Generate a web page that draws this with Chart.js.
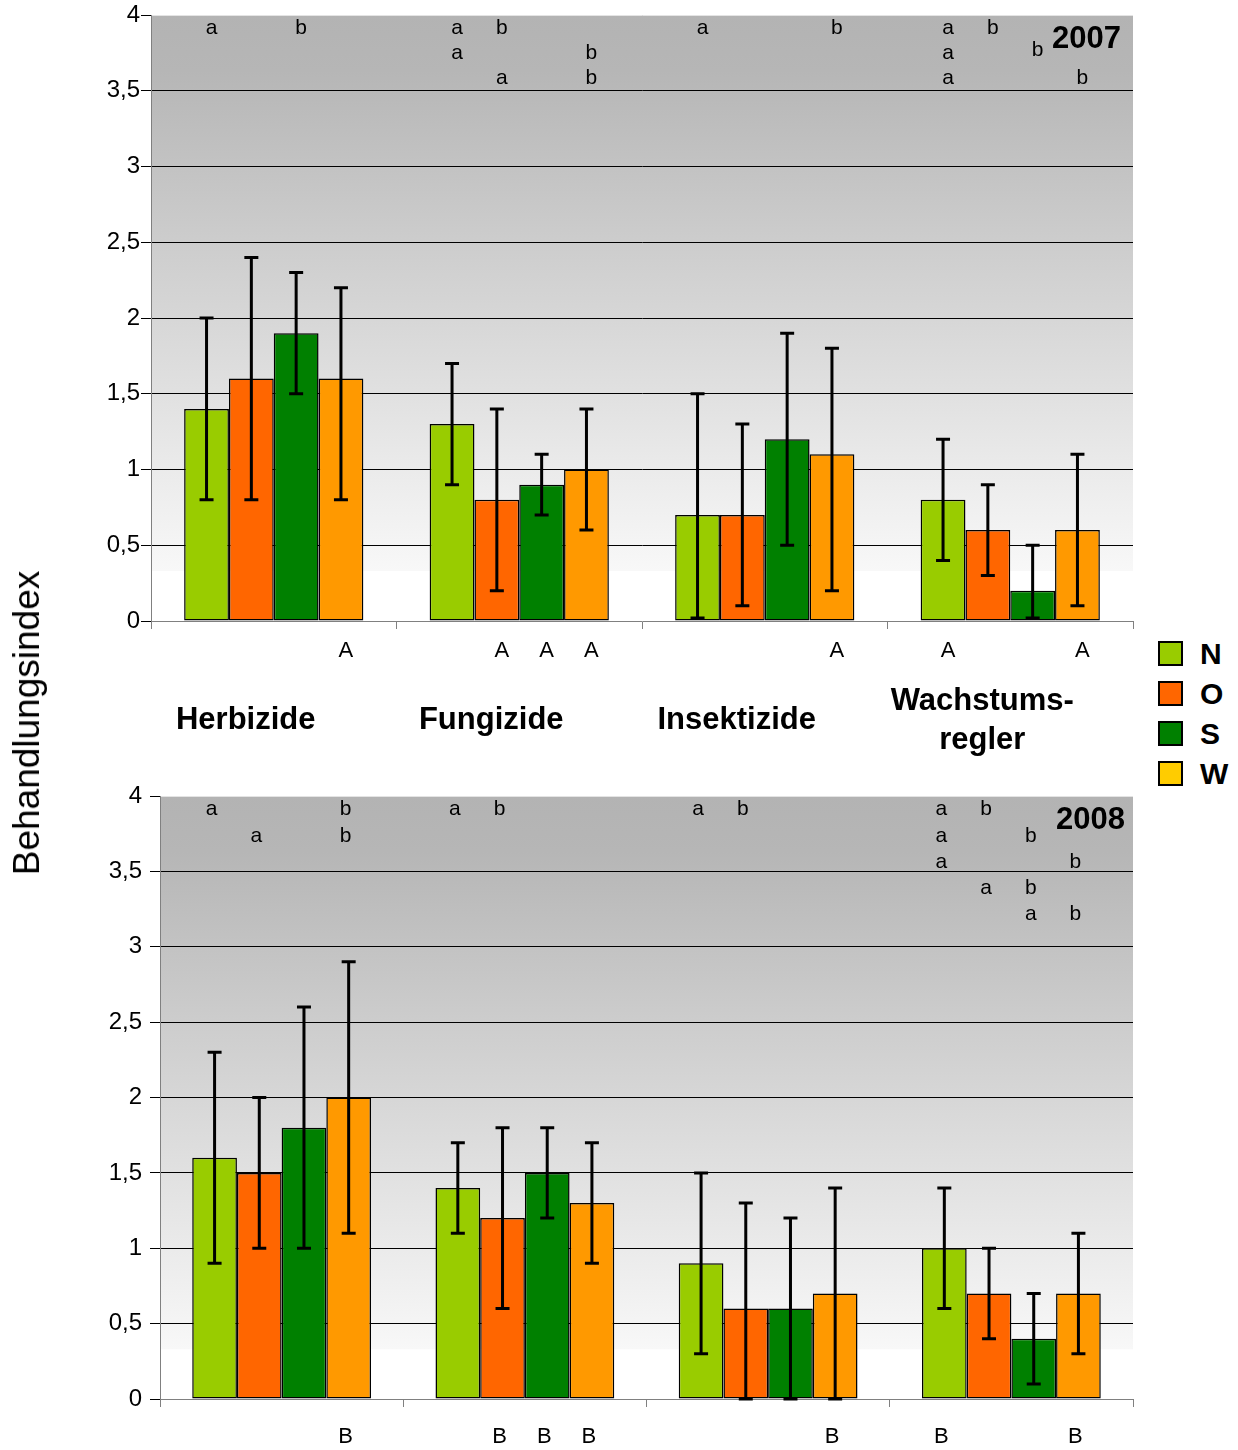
<!DOCTYPE html>
<html>
<head>
<meta charset="utf-8">
<script src="https://cdn.jsdelivr.net/npm/chart.js@4.4.1/dist/chart.umd.min.js"></script>
<style>
  body { margin: 0; background: #fff; width: 1238px; height: 1450px; position: relative; overflow: hidden;
         font-family: 'Liberation Sans', Arial, sans-serif; }
  canvas { position: absolute; left: 0; }
  #c2007 { top: 0; }
  #c2008 { top: 780px; }
  #ytitle { position: absolute; left: 27px; top: 723px; transform: translate(-50%, -50%) rotate(-90deg);
            font-size: 37px; white-space: nowrap; }
  #legend { position: absolute; left: 1158px; top: 641px; }
  .item { display: flex; align-items: center; height: 25px; margin-bottom: 15px; }
  .sw { width: 21px; height: 21px; border: 2px solid #000; }
  .lab { font-weight: bold; font-size: 30px; margin-left: 17px; }
</style>
</head>
<body>
<canvas id="c2007" width="1140" height="780"></canvas>
<canvas id="c2008" width="1140" height="670"></canvas>
<div id="ytitle">Behandlungsindex</div>
<div id="legend"></div>
<script>
const categories = [["Herbizide"], ["Fungizide"], ["Insektizide"], ["Wachstums-", "regler"]];
const seriesNames = ["N", "O", "S", "W"];
const barColors = ["#99cc00", "#ff6600", "#008000", "#ff9900"];
const legendColors = ["#99cc00", "#ff6600", "#008000", "#ffcc00"];
const yTicks = [0, 0.5, 1, 1.5, 2, 2.5, 3, 3.5, 4];

// rows: N, O, S, W ; columns: categories
const mean2007 = [[1.4, 1.3, 0.7, 0.8], [1.6, 0.8, 0.7, 0.6], [1.9, 0.9, 1.2, 0.2], [1.6, 1.0, 1.1, 0.6]];
const low2007  = [[0.8, 0.9, 0.02, 0.4], [0.8, 0.2, 0.1, 0.3], [1.5, 0.7, 0.5, 0.02], [0.8, 0.6, 0.2, 0.1]];
const high2007 = [[2.0, 1.7, 1.5, 1.2], [2.4, 1.4, 1.3, 0.9], [2.3, 1.1, 1.9, 0.5], [2.2, 1.4, 1.8, 1.1]];

const mean2008 = [[1.6, 1.4, 0.9, 1.0], [1.5, 1.2, 0.6, 0.7], [1.8, 1.5, 0.6, 0.4], [2.0, 1.3, 0.7, 0.7]];
const low2008  = [[0.9, 1.1, 0.3, 0.6], [1.0, 0.6, 0, 0.4], [1.0, 1.2, 0, 0.1], [1.1, 0.9, 0, 0.3]];
const high2008 = [[2.3, 1.7, 1.5, 1.4], [2.0, 1.8, 1.3, 1.0], [2.6, 1.8, 1.2, 0.7], [2.9, 1.7, 1.4, 1.1]];

// [category, series, row, letter]
const top2007 = [
  [0, 0, 0, "a"], [0, 2, 0, "b"],
  [1, 0, 0, "a"], [1, 1, 0, "b"], [1, 0, 1, "a"], [1, 3, 1, "b"], [1, 1, 2, "a"], [1, 3, 2, "b"],
  [2, 0, 0, "a"], [2, 3, 0, "b"],
  [3, 0, 0, "a"], [3, 1, 0, "b"], [3, 0, 1, "a"], [3, 2, 0.88, "b"], [3, 0, 2, "a"], [3, 3, 2, "b"]
];
const top2008 = [
  [0, 0, 0, "a"], [0, 3, 0, "b"], [0, 1, 1, "a"], [0, 3, 1, "b"],
  [1, 0, 0, "a"], [1, 1, 0, "b"],
  [2, 0, 0, "a"], [2, 1, 0, "b"],
  [3, 0, 0, "a"], [3, 1, 0, "b"], [3, 0, 1, "a"], [3, 2, 1, "b"], [3, 0, 2, "a"], [3, 3, 2, "b"],
  [3, 1, 3, "a"], [3, 2, 3, "b"], [3, 2, 4, "a"], [3, 3, 4, "b"]
];
// [category, series, letter]
const bottom2007 = [[0, 3, "A"], [1, 1, "A"], [1, 2, "A"], [1, 3, "A"], [2, 3, "A"], [3, 0, "A"], [3, 3, "A"]];
const bottom2008 = [[0, 3, "B"], [1, 1, "B"], [1, 2, "B"], [1, 3, "B"], [2, 3, "B"], [3, 0, "B"], [3, 3, "B"]];

const FONT = "'Liberation Sans', Arial, sans-serif";

function extrasPlugin(o) {
  return {
    id: "extras",
    beforeDraw(chart) {
      const { ctx, chartArea: a } = chart;
      const y = chart.scales.y;
      const yFade = y.getPixelForValue(0.33);
      const g = ctx.createLinearGradient(0, a.top, 0, yFade);
      g.addColorStop(0, "#b3b3b3");
      g.addColorStop(0.1, "#b6b6b6");
      g.addColorStop(1, "#f8f8f8");
      ctx.save();
      ctx.fillStyle = "#fff";
      ctx.fillRect(a.left, a.top, a.width, a.height);
      ctx.fillStyle = g;
      ctx.fillRect(a.left, a.top, a.width, yFade - a.top);
      ctx.restore();
    },
    afterDatasetsDraw(chart) {
      const { ctx } = chart;
      const y = chart.scales.y;
      ctx.save();
      ctx.strokeStyle = "#000";
      ctx.lineWidth = 3;
      o.low.forEach((row, s) => {
        const meta = chart.getDatasetMeta(s);
        row.forEach((lo, c) => {
          const x = meta.data[c].x;
          const y1 = y.getPixelForValue(lo);
          const y2 = y.getPixelForValue(o.high[s][c]);
          ctx.beginPath();
          ctx.moveTo(x, y1); ctx.lineTo(x, y2);
          ctx.moveTo(x - 7, y1); ctx.lineTo(x + 7, y1);
          ctx.moveTo(x - 7, y2); ctx.lineTo(x + 7, y2);
          ctx.stroke();
        });
      });
      ctx.restore();
    },
    afterDraw(chart) {
      const { ctx, chartArea: a } = chart;
      const y = chart.scales.y;
      ctx.save();
      ctx.fillStyle = "#000";
      ctx.textAlign = "center";
      ctx.textBaseline = "middle";
      ctx.font = "21px " + FONT;
      o.top.forEach(([c, s, r, t]) => {
        const x = chart.getDatasetMeta(s).data[c].x + o.dx;
        ctx.fillText(t, x, y.getPixelForValue(o.rowBase - o.rowStep * r));
      });
      ctx.font = "22px " + FONT;
      o.bottom.forEach(([c, s, t]) => {
        const x = chart.getDatasetMeta(s).data[c].x + o.dx;
        ctx.fillText(t, x, y.getPixelForValue(o.bottomAt));
      });
      ctx.font = "bold 31px " + FONT;
      ctx.textAlign = "right";
      ctx.fillText(o.year, a.right - o.yearRight, y.getPixelForValue(3.84));
      ctx.restore();
    }
  };
}

function makeChart(id, o) {
  const datasets = seriesNames.map((name, s) => ({
    label: name,
    data: o.mean[s],
    backgroundColor: barColors[s],
    borderColor: "#000",
    borderWidth: 1.5,
    borderSkipped: false,
    categoryPercentage: o.catPct,
    barPercentage: 1
  }));
  return new Chart(document.getElementById(id), {
    type: "bar",
    data: { labels: categories, datasets },
    options: {
      responsive: false,
      animation: false,
      layout: { padding: { top: o.padTop, right: 7, left: 0, bottom: 0 } },
      plugins: { legend: { display: false }, tooltip: { enabled: false } },
      scales: {
        x: {
          offset: true,
          afterFit: (sc) => {
            sc.height = o.xHeight;
            sc.paddingLeft = 0;
            sc.paddingRight = 0;
          },
          border: { color: "#808080", width: 1 },
          grid: { offset: true, drawOnChartArea: false, tickLength: 8, color: "#808080" },
          ticks: {
            display: o.showCats,
            color: "#000",
            font: { family: FONT, size: 31, weight: "bold", lineHeight: 1.27 },
            padding: 72,
            labelOffset: -28,
            crossAlign: "center",
            maxRotation: 0,
            autoSkip: false
          }
        },
        y: {
          min: 0,
          max: 4,
          afterFit: (sc) => {
            sc.width = o.yWidth;
            sc.paddingTop = 0;
            sc.paddingBottom = 0;
          },
          afterBuildTicks: (sc) => { sc.ticks = yTicks.map((v) => ({ value: v })); },
          border: { color: "#808080", width: 1 },
          grid: {
            color: (ctx) => (ctx.tick && ctx.tick.value === 4 ? "#e4e4e4" : ctx.tick && ctx.tick.value === 0 ? "rgba(0,0,0,0)" : "#000"),
            tickColor: "#000",
            tickLength: 10,
            lineWidth: 1
          },
          ticks: {
            color: "#000",
            padding: o.tickPad,
            font: { family: FONT, size: 24 },
            callback: (v) => String(v).replace(".", ",")
          }
        }
      }
    },
    plugins: [extrasPlugin(o)]
  });
}

makeChart("c2007", {
  mean: mean2007, low: low2007, high: high2007, top: top2007, bottom: bottom2007,
  year: "2007", yearRight: 12, dx: 5, rowBase: 3.91, rowStep: 0.165, bottomAt: -0.2,
  catPct: 0.73, padTop: 15, xHeight: 159, yWidth: 151, tickPad: 1, showCats: true
});
makeChart("c2008", {
  mean: mean2008, low: low2008, high: high2008, top: top2008, bottom: bottom2008,
  year: "2008", yearRight: 8, dx: -3, rowBase: 3.91, rowStep: 0.174, bottomAt: -0.25,
  catPct: 0.735, padTop: 16, xHeight: 51, yWidth: 160, tickPad: 8, showCats: false
});

const legend = document.getElementById("legend");
seriesNames.forEach((name, s) => {
  const item = document.createElement("div");
  item.className = "item";
  item.innerHTML = `<div class="sw" style="background:${legendColors[s]}"></div><span class="lab">${name}</span>`;
  legend.appendChild(item);
});
</script>
</body>
</html>
